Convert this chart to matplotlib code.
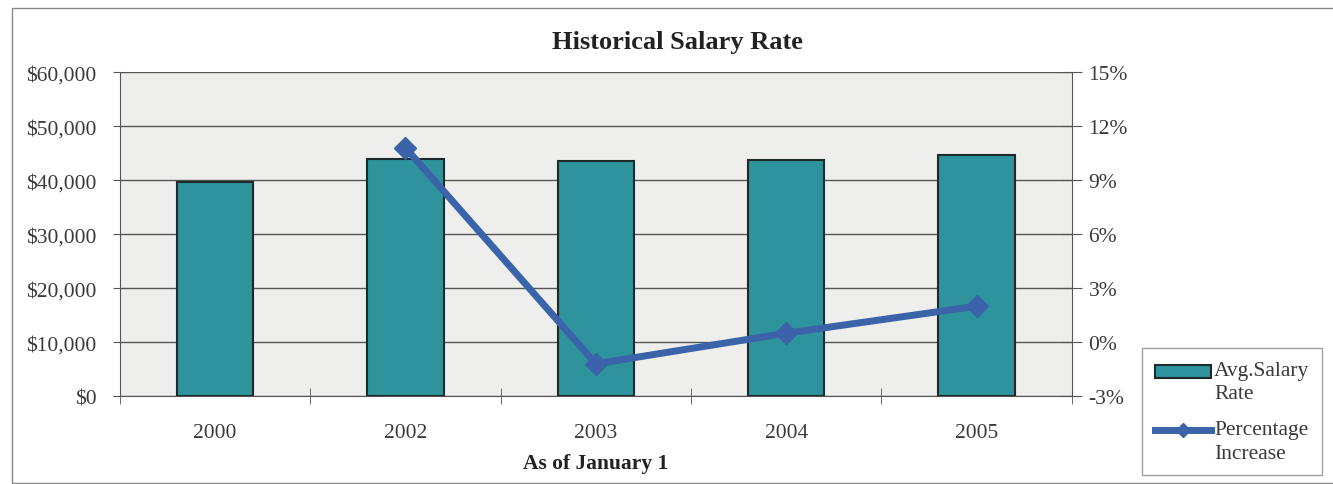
import matplotlib.pyplot as plt
import matplotlib.patches as mpatches
from matplotlib.legend_handler import HandlerPatch, HandlerLine2D
import numpy as np

years = ['2000', '2002', '2003', '2004', '2005']
avg_salary = [39600, 43900, 43500, 43700, 44600]
pct_years = ['2002', '2003', '2004', '2005']
pct_increase = [10.8, -1.2, 0.5, 2.0]

plt.rcParams['font.family'] = ['Liberation Serif', 'DejaVu Serif']
txt = '#3a3a3a'
shift = 0.5  # legend handles sit level with the first line of each label


def bar_handle(legend, orig_handle, xdescent, ydescent, width, height, fontsize):
    return mpatches.Rectangle((-xdescent, -ydescent + shift * fontsize), width, height * 0.9)


class UpLine(HandlerLine2D):
    def create_artists(self, legend, orig_handle, xdescent, ydescent, width, height, fontsize, trans):
        arts = super().create_artists(legend, orig_handle, xdescent, ydescent,
                                      width, height, fontsize, trans)
        for a in arts:
            a.set_ydata(np.asarray(a.get_ydata()) + shift * fontsize)
        return arts


fig = plt.figure(figsize=(13.33, 4.85), dpi=100)
ax = fig.add_axes([0.090, 0.181, 0.714, 0.668])
ax.set_facecolor('#eeeeec')

x = np.arange(len(years))
bars = ax.bar(x, avg_salary, width=0.4, color='#2f939d', edgecolor='#1c2a2a',
              linewidth=1.5, zorder=3)
ax.set_xlim(-0.5, len(years) - 0.5)
ax.set_ylim(0, 60000)
ax.set_yticks(np.arange(0, 60001, 10000))
ax.set_yticklabels([f'${v:,.0f}' for v in np.arange(0, 60001, 10000)])
ax.yaxis.grid(True, color='#555555', linewidth=1, zorder=0)
ax.set_xticks(x)
ax.set_xticklabels(years)
ax.tick_params(axis='x', length=0, pad=19.5, labelsize=15.5, labelcolor=txt)
ax.set_xticks(np.arange(-0.5, len(years), 1), minor=True)
ax.tick_params(axis='x', which='minor', length=11, direction='inout', color='#555555')
ax.tick_params(axis='y', length=5, pad=12, labelsize=15.5, colors='#555555', labelcolor=txt)
for s in ['top', 'right']:
    ax.spines[s].set_visible(False)
for s in ['left', 'bottom']:
    ax.spines[s].set_color('#555555')
ax.set_xlabel('As of January 1', fontsize=15.5, fontweight='bold', labelpad=8, color='#222222')
fig.text(677 / 1333, 1 - 43 / 485, 'Historical Salary Rate', fontsize=19,
         fontweight='bold', ha='center', va='center', color='#222222')

ax2 = ax.twinx()
px = [years.index(y) for y in pct_years]
line, = ax2.plot(px, pct_increase, color='#3a63aa', linewidth=5, marker='D',
                 markersize=11, zorder=4)
ax2.set_ylim(-3, 15)
ax2.set_yticks(np.arange(-3, 16, 3))
ax2.set_yticklabels([f'{v}%' for v in np.arange(-3, 16, 3)])
ax2.tick_params(axis='y', length=14, pad=5, direction='inout', labelsize=15.5,
                colors='#555555', labelcolor=txt)
for s in ['top', 'left', 'bottom']:
    ax2.spines[s].set_visible(False)
ax2.spines['right'].set_color('#555555')

bar_h = bars.patches[0]
leg = fig.legend([bar_h, line], ['Avg.Salary\nRate', 'Percentage\nIncrease'],
                 loc='upper left',
                 bbox_to_anchor=(1142 / 1333, 1 - 349 / 485), fontsize=15.5,
                 frameon=True, fancybox=False, edgecolor='#888888',
                 handlelength=2.6, handletextpad=0.15, labelspacing=0.8,
                 borderpad=0.6, borderaxespad=0, labelcolor=txt,
                 handler_map={bar_h: HandlerPatch(patch_func=bar_handle),
                              line: UpLine()})
for t in leg.get_texts():
    t.set_linespacing(1.3)
leg.legend_handles[1].set_markersize(7)

fig.patches.append(mpatches.Rectangle((12 / 1333, 1 / 485), 1330 / 1333, 475 / 485,
                                      transform=fig.transFigure, fill=False,
                                      edgecolor='#888888', linewidth=1))

fig.savefig('out.png', dpi=100)
